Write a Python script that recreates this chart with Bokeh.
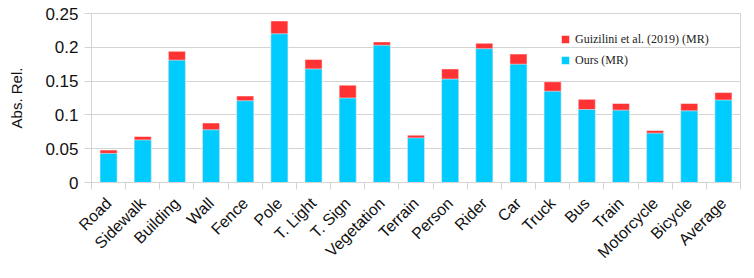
import math
from bokeh.plotting import figure
from bokeh.models import (FixedTicker, PrintfTickFormatter, ColumnDataSource,
                          Legend, LegendItem, Range1d)
from bokeh.embed import file_html
from bokeh.resources import INLINE

categories = ["Road", "Sidewalk", "Building", "Wall", "Fence", "Pole", "T. Light",
              "T. Sign", "Vegetation", "Terrain", "Person", "Rider", "Car", "Truck",
              "Bus", "Train", "Motorcycle", "Bicycle", "Average"]
ours = [0.043, 0.063, 0.181, 0.078, 0.121, 0.220, 0.168, 0.125, 0.203, 0.066,
        0.153, 0.198, 0.175, 0.135, 0.108, 0.107, 0.073, 0.106, 0.122]
guizilini = [0.048, 0.068, 0.194, 0.088, 0.128, 0.239, 0.182, 0.144, 0.208, 0.070,
             0.168, 0.206, 0.190, 0.149, 0.123, 0.117, 0.077, 0.117, 0.133]
y_ticks = [0, 0.05, 0.1, 0.15, 0.2, 0.25]

n = len(categories)
xs = [i + 0.5 for i in range(n)]
src = ColumnDataSource(dict(x=xs, ours=ours, g=guizilini))

GRID = "#d4d4d4"
p = figure(width=745, height=270, output_backend="svg", toolbar_location=None,
           x_range=Range1d(0, n), y_range=Range1d(0, 0.25),
           min_border_left=91, min_border_right=5, min_border_top=13,
           min_border_bottom=80)

r_g = p.vbar(x="x", top="g", width=0.5, source=src, fill_color="#ff3333",
             line_color="white", line_alpha=0.5, line_width=1)
r_o = p.vbar(x="x", top="ours", width=0.5, source=src, fill_color="#00ccff",
             line_color="white", line_alpha=0.5, line_width=1)

p.outline_line_color = GRID
p.xgrid.grid_line_color = None
p.ygrid.grid_line_color = GRID
p.ygrid.ticker = FixedTicker(ticks=y_ticks)

# x axis
xa = p.xaxis[0]
xa.ticker = FixedTicker(ticks=xs, minor_ticks=list(range(n + 1)))
xa.major_label_overrides = {x: c for x, c in zip(xs, categories)}
xa.major_tick_out = 0
xa.major_tick_in = 0
xa.minor_tick_out = 7
xa.minor_tick_in = 0
xa.minor_tick_line_color = GRID
xa.axis_line_color = GRID
xa.major_label_orientation = math.pi / 4
xa.major_label_text_font = "Liberation Sans"
xa.major_label_text_font_size = "16px"
xa.major_label_text_color = "#111111"
xa.major_label_standoff = 11

# y axis
ya = p.yaxis[0]
ya.ticker = FixedTicker(ticks=y_ticks)
ya.formatter = PrintfTickFormatter(format="%g")
ya.major_tick_out = 7
ya.major_tick_in = 0
ya.minor_tick_out = 0
ya.minor_tick_in = 0
ya.major_tick_line_color = GRID
ya.axis_line_color = GRID
ya.major_label_text_font = "Liberation Sans"
ya.major_label_text_font_size = "17px"
ya.major_label_text_color = "#111111"
ya.major_label_standoff = 6
ya.axis_label = "Abs. Rel."
ya.axis_label_text_font = "Liberation Sans"
ya.axis_label_text_font_size = "15px"
ya.axis_label_text_font_style = "normal"
ya.axis_label_text_color = "#111111"
ya.axis_label_standoff = 17

legend = Legend(items=[LegendItem(label="Guizilini et al. (2019) (MR)", renderers=[r_g]),
                       LegendItem(label="Ours (MR)", renderers=[r_o])],
                location=(469, 114), padding=0, margin=0, spacing=5,
                glyph_width=10, glyph_height=10, label_height=16, label_standoff=5,
                label_text_font="Liberation Serif", label_text_font_size="12px",
                label_text_color="#222222", border_line_color=None,
                background_fill_alpha=0)
p.add_layout(legend, "center")

open("out.html", "w").write(file_html(p, INLINE))
